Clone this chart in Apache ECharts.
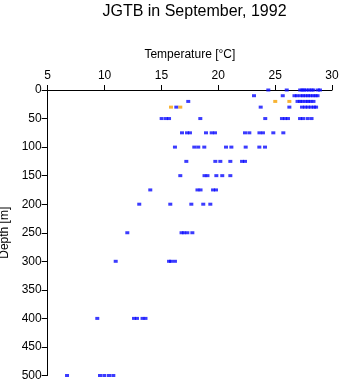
<!DOCTYPE html>
<html>
<head>
<meta charset="utf-8">
<script src="https://cdn.jsdelivr.net/npm/echarts@6/dist/echarts.min.js"></script>
<style>html,body{margin:0;padding:0;background:#fff}#c{width:341px;height:384px}</style>
</head>
<body>
<div id="c"></div>
<script>
const xTicks = [5, 10, 15, 20, 25, 30];
const yTicks = [0, 50, 100, 150, 200, 250, 300, 350, 400, 450, 500];
const depths = [0, 10, 20, 30, 50, 75, 100, 125, 150, 175, 200, 250, 300, 400, 500];
// Blue temperatures (°C) at each depth
const blue0 = [24.40, 26.02, 27.2, 27.4, 27.54, 27.76, 27.98, 28.2, 28.37, 28.77, 28.94];
const blue10 = [23.14, 25.67, 26.7, 26.92, 27.23, 27.45, 27.67, 27.89, 28.1, 28.33, 28.55, 28.73];
const blue20 = [17.36, 26.97, 27.19, 27.4, 27.67, 27.89, 28.11, 28.37];
const blue30 = [16.31, 23.73, 26.25, 27.36, 27.63, 27.89, 28.16, 28.42, 28.6];
const blue50 = [15.02, 15.4, 15.67, 18.42, 24.13, 25.6, 25.87, 26.13, 27.19, 27.45, 27.85, 28.2];
const blue75 = [16.81, 17.25, 17.51, 18.92, 19.42, 19.71, 22.35, 22.73, 23.62, 23.93, 24.84, 25.72];
const blue100 = [16.19, 17.89, 18.24, 18.77, 20.68, 21.15, 22.41, 23.61, 24.11];
const blue125 = [17.19, 19.74, 20.18, 21.06, 22.09, 22.35];
const blue150 = [16.66, 18.79, 19.05, 19.83, 20.35, 21.06];
const blue175 = [14.02, 18.17, 18.44, 19.54, 19.8];
const blue200 = [13.05, 15.78, 17.63, 18.68, 19.3];
const blue250 = [12.0, 16.77, 16.99, 17.28, 17.72];
const blue300 = [10.98, 15.67, 15.84, 16.19];
const blue400 = [9.36, 12.59, 12.85, 13.34, 13.6];
const blue500 = [6.7, 9.6, 9.98, 10.39, 10.77];
// Orange temperatures (°C) with their depths
const orangeTemp = [25.01, 26.25, 15.84, 16.66];
const orangeDepth = [20, 20, 30, 30];

const blueRows = [blue0, blue10, blue20, blue30, blue50, blue75, blue100, blue125, blue150, blue175, blue200, blue250, blue300, blue400, blue500];
const blueData = [];
blueRows.forEach((row, i) => row.forEach(t => blueData.push([t, depths[i]])));
const orangeData = orangeTemp.map((t, i) => [t, orangeDepth[i]]);

const FONT = 'Liberation Sans';
const chart = echarts.init(document.getElementById('c'), null, {renderer: 'canvas'});
chart.setOption({
  animation: false,
  backgroundColor: '#fff',
  title: {
    text: 'JGTB in September, 1992',
    left: 189.5, top: -1, textAlign: 'center',
    textStyle: {fontFamily: FONT, fontSize: 16, fontWeight: 'normal', color: '#000'}
  },
  grid: {left: 47.7, right: 9, top: 90, bottom: 8.5, containLabel: false, outerBoundsMode: 'none'},
  xAxis: {
    type: 'value', position: 'top', min: 5, max: 30, interval: 5,
    name: 'Temperature [°C]', nameLocation: 'middle', nameGap: 29,
    nameTextStyle: {fontFamily: FONT, fontSize: 12, color: '#000'},
    axisLine: {show: true, onZero: false, lineStyle: {color: '#000', width: 1}},
    axisTick: {show: true, length: 5, lineStyle: {color: '#000'}},
    axisLabel: {fontFamily: FONT, fontSize: 12, color: '#000', margin: 8,
      formatter: v => xTicks.includes(v) ? String(v) : ''},
    splitLine: {show: false}
  },
  yAxis: {
    type: 'value', inverse: true, min: 0, max: 500, interval: 50,
    name: 'Depth [m]', nameLocation: 'middle', nameGap: 37, nameRotate: 90,
    nameTextStyle: {fontFamily: FONT, fontSize: 12, color: '#000', padding: [0, 0, 0, 0]},
    axisLine: {show: true, onZero: false, lineStyle: {color: '#000', width: 1}},
    axisTick: {show: true, length: 6, lineStyle: {color: '#000'}},
    axisLabel: {fontFamily: FONT, fontSize: 12, color: '#000', margin: 6,
      formatter: v => yTicks.includes(v) ? String(v) : ''},
    splitLine: {show: false}
  },
  series: [
    {type: 'scatter', data: blueData, symbol: 'rect', symbolSize: [4, 3],
      itemStyle: {color: '#0a0aff'}, silent: true},
    {type: 'scatter', data: orangeData, symbol: 'rect', symbolSize: [4, 3],
      itemStyle: {color: '#f5a000'}, silent: true}
  ]
});
</script>
</body>
</html>
